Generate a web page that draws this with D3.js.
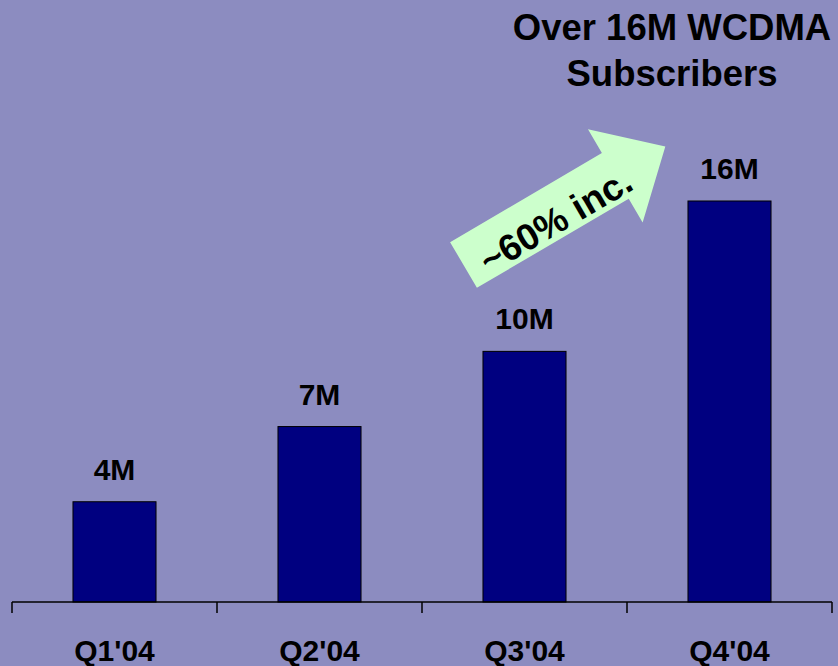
<!DOCTYPE html>
<html>
<head>
<meta charset="utf-8">
<script src="https://d3js.org/d3.v7.min.js"></script>
<style>
  body { margin: 0; background: #8c8cc0; }
  svg text { font-family: "Liberation Sans", Arial, sans-serif; font-weight: bold; fill: #000; }
</style>
</head>
<body>
<svg id="chart" width="838" height="666"></svg>
<script>
// quarters and subscriber counts (millions)
var quarters = ["Q1'04", "Q2'04", "Q3'04", "Q4'04"];
var subscribers = [4, 7, 10, 16];
var valueLabels = ["4M", "7M", "10M", "16M"];
var titleLines = ["Over 16M WCDMA", "Subscribers"];
var growthNote = "~60% inc.";

var svg = d3.select("#chart");

// scales
var x = d3.scaleBand()
  .domain(quarters)
  .range([12, 832])
  .padding(0);

var y = d3.scaleLinear()
  .domain([0, 16])
  .range([602, 201]);

var barW = x.bandwidth() * 0.405;

// background
svg.append("rect")
  .attr("width", 838)
  .attr("height", 666)
  .attr("fill", "#8c8cc0");

// bars
svg.selectAll("rect.bar")
  .data(subscribers)
  .enter()
  .append("rect")
  .attr("class", "bar")
  .attr("x", function(d, i) { return x(quarters[i]) + (x.bandwidth() - barW) / 2; })
  .attr("y", function(d) { return y(d); })
  .attr("width", barW)
  .attr("height", function(d) { return y(0) - y(d); })
  .attr("fill", "#000080")
  .attr("stroke", "#000")
  .attr("stroke-width", 1);

// value labels
svg.selectAll("text.val")
  .data(subscribers)
  .enter()
  .append("text")
  .attr("class", "val")
  .attr("x", function(d, i) { return x(quarters[i]) + x.bandwidth() / 2; })
  .attr("y", function(d) { return y(d) - 22; })
  .attr("text-anchor", "middle")
  .style("font-size", "30px")
  .text(function(d, i) { return valueLabels[i]; });

// x axis: baseline with ticks at band edges
svg.append("line")
  .attr("x1", x.range()[0])
  .attr("x2", x.range()[1])
  .attr("y1", y(0))
  .attr("y2", y(0))
  .attr("stroke", "#000")
  .attr("stroke-width", 1.5);

var edges = quarters.map(function(q) { return x(q); }).concat([x.range()[1]]);
svg.selectAll("line.tick")
  .data(edges)
  .enter()
  .append("line")
  .attr("class", "tick")
  .attr("x1", function(d) { return d; })
  .attr("x2", function(d) { return d; })
  .attr("y1", y(0))
  .attr("y2", y(0) + 11)
  .attr("stroke", "#000")
  .attr("stroke-width", 1.5);

svg.selectAll("text.cat")
  .data(quarters)
  .enter()
  .append("text")
  .attr("class", "cat")
  .attr("x", function(d) { return x(d) + x.bandwidth() / 2; })
  .attr("y", 661)
  .attr("text-anchor", "middle")
  .style("font-size", "30px")
  .text(function(d) { return d; });

// title (top right)
svg.selectAll("text.title")
  .data(titleLines)
  .enter()
  .append("text")
  .attr("class", "title")
  .attr("x", 672)
  .attr("y", function(d, i) { return 40 + i * 46; })
  .attr("text-anchor", "middle")
  .style("font-size", "36.5px")
  .text(function(d) { return d; });

// growth arrow between Q3 and Q4
var arrowLen = 234, shaftLen = 176, shaftHalf = 26.5, headHalf = 54;
var arrowPts = [
  [0, -shaftHalf], [shaftLen, -shaftHalf], [shaftLen, -headHalf],
  [arrowLen, 0], [shaftLen, headHalf], [shaftLen, shaftHalf], [0, shaftHalf]
];
var arrow = svg.append("g")
  .attr("transform", "translate(463.5,265) rotate(-30.4)");

arrow.append("polygon")
  .attr("points", arrowPts.map(function(p) { return p.join(","); }).join(" "))
  .attr("fill", "#ccffcc");

arrow.append("text")
  .attr("x", 102)
  .attr("y", 21)
  .attr("text-anchor", "middle")
  .style("font-size", "37px")
  .text(growthNote);
</script>
</body>
</html>
